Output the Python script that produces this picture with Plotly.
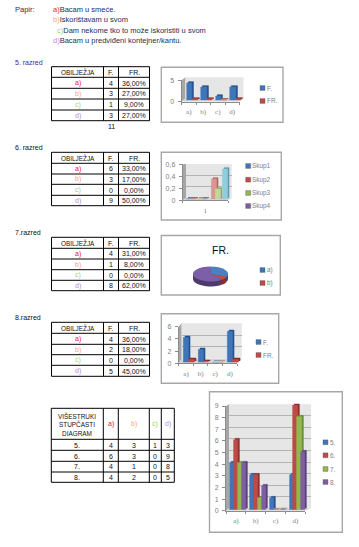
import plotly.graph_objects as go

W, H = 359, 547

# ---------- data ----------
oznake = ["a)", "b)", "c)", "d)"]
f_5 = [4, 3, 1, 3]
fr_5 = [36.0, 27.0, 9.0, 27.0]
f_6 = [6, 3, 0, 9]
fr_6 = [33.0, 17.0, 0.0, 50.0]
f_7 = [4, 1, 0, 8]
fr_7 = [31.0, 8.0, 0.0, 62.0]
f_8 = [4, 2, 0, 5]
fr_8 = [36.0, 18.0, 0.0, 45.0]
zbroj_5 = "11"
razredi = ["5.", "6.", "7.", "8."]
skup_zero = [0, 0, 0, 0]
skup_imena = ["Skup1", "Skup2", "Skup3", "Skup4"]
opis = ["Bacam u smeće.", "Iskorištavam u svom",
        "Dam nekome tko to može iskoristiti u svom",
        "Bacam u predviđeni kontejner/kantu."]

# ---------- styles ----------
FONT = "Liberation Sans"
OZN_COL = ["#f01818", "#f8a868", "#9ad860", "#b090d8"]
BLUE, RED, GREEN, PURPLE = "#4076b8", "#be4b48", "#94b850", "#7d5fa2"
DBLUE, DRED, DGREEN, DPURPLE = "#24508a", "#8a2e2c", "#68883a", "#553f78"
AX_TXT = "#808080"

def X(x): return x / W
def Y(y): return 1 - y / H

shapes, annos, traces, axes = [], [], [], {}
_n = [0]

def text(x, y, s, size=7, color="#111111", xanchor="left", **kw):
    annos.append(dict(x=X(x), y=Y(y), xref="paper", yref="paper", text=s, showarrow=False,
                      xanchor=xanchor, yanchor="middle", align=kw.pop("align", "left"),
                      font=dict(family=FONT, size=size, color=color),
                      borderpad=0, borderwidth=0, **kw))

def rect(x0, y0, x1, y1, fill=None, line=None, lw=1):
    shapes.append(dict(type="rect", xref="paper", yref="paper", x0=X(x0), x1=X(x1), y0=Y(y0), y1=Y(y1),
                       fillcolor=fill or "rgba(0,0,0,0)", line=dict(color=line or "rgba(0,0,0,0)", width=lw if line else 0),
                       layer="below"))

def line(x0, y0, x1, y1, color="#000000", lw=1):
    shapes.append(dict(type="line", xref="paper", yref="paper", x0=X(x0), x1=X(x1), y0=Y(y0), y1=Y(y1),
                       line=dict(color=color, width=lw), layer="above"))

def poly(pts, fill):
    d = "M " + " L ".join(f"{X(a):.5f},{Y(b):.5f}" for a, b in pts) + " Z"
    shapes.append(dict(type="path", xref="paper", yref="paper", path=d, fillcolor=fill, line=dict(width=0), layer="below"))

def grid_table(xs, ys, rows, colors=None):
    for x in xs: line(x, ys[0], x, ys[-1])
    for y in ys: line(xs[0], y, xs[-1], y)
    for r, row in enumerate(rows):
        for c, v in enumerate(row):
            col = colors[r][c] if colors else "#111111"
            size = 6.4 if r == 0 and c == 0 else 7
            text((xs[c] + xs[c + 1]) / 2, (ys[r] + ys[r + 1]) / 2 + 0.3, v, size=size, color=col,
                 xanchor="center", align="center")

def pct(v): return f"{v:.2f}%".replace(".", ",")

def freq_table(y_lines, f, fr):
    xs = [51.5, 103.5, 118.5, 149.5]
    rows = [["OBILJEŽJA", "F.", "FR."]] + [[o, str(a), pct(b)] for o, a, b in zip(oznake, f, fr)]
    cols = [["#111111"] * 3] + [[OZN_COL[i], "#111111", "#111111"] for i in range(4)]
    grid_table(xs, y_lines, rows, cols)

def new_axes(l, r, b, t, xrange, yrange, xopt=None, yopt=None):
    _n[0] += 1
    i = _n[0]
    s = "" if i == 1 else str(i)
    base = dict(showgrid=False, zeroline=False, showticklabels=False, ticks="", showline=False, fixedrange=True)
    xa = dict(base, domain=[X(l), X(r)], range=xrange, anchor="y" + s)
    ya = dict(base, domain=[Y(b), Y(t)], range=yrange, anchor="x" + s)
    xa.update(xopt or {}); ya.update(yopt or {})
    axes["xaxis" + s] = xa; axes["yaxis" + s] = ya
    return "x" + s, "y" + s

def bar_chart(fl, fr, y0, yt, wall, ymax, yticks, ylabels, cats, series, offsets, width,
              shift=(3, -1), depth=1.6):
    wl, wr, wt, wb = wall
    poly([(fl, y0), (wl, wb), (wl, wt), (fl, yt)], "#a6a6a6")
    poly([(fl, y0), (wl, wb), (wr, wb), (fr, y0)], "#d4d4d4")
    rect(wl, wt, wr, wb, fill="#e6e6e6")
    n = len(cats)
    xr = [-0.5, n - 0.5]
    # back wall with gridlines
    xa, ya = new_axes(wl, wr, wb, wt, xr, [0, ymax],
             yopt=dict(tickmode="array", tickvals=yticks, showgrid=True, gridcolor="#b4b4b4", gridwidth=1))
    traces.append(go.Scatter(x=list(range(n)), y=[0] * n, mode="none", xaxis=xa, yaxis=ya,
                             showlegend=False, hoverinfo="skip"))
    # side faces and fronts of the bars
    for sx, sy, key in ((shift[0] + depth, shift[1] - depth * 0.8, "dark"), (shift[0], shift[1], "face")):
        xa, ya = new_axes(fl + sx, fr + sx, y0 + sy, yt + sy, xr, [0, ymax],
                          xopt=dict(type="category", categoryorder="array", categoryarray=cats))
        for s, off in zip(series, offsets):
            traces.append(go.Bar(x=cats, y=s["y"], name=s["name"], xaxis=xa, yaxis=ya,
                                 marker=dict(color=s[key], line=dict(color=s[key], width=0.6)),
                                 width=[width] * n, offset=[off] * n, showlegend=False, hoverinfo="skip"))
    # front axes
    xa, ya = new_axes(fl, fr, y0, yt, xr, [0, ymax],
             xopt=dict(showline=True, linecolor="#8c8c8c", linewidth=1, tickmode="array",
                       tickvals=list(range(n)), ticktext=cats, showticklabels=True,
                       tickfont=dict(family="Liberation Serif", size=7, color=AX_TXT), ticks="", ticklabelstandoff=3,
                       minor=dict(tickmode="array", tickvals=[i - 0.5 for i in range(n + 1)], ticks="outside",
                                  ticklen=2, tickcolor="#8c8c8c", tickwidth=1)),
             yopt=dict(showline=True, linecolor="#8c8c8c", linewidth=1, tickmode="array", tickvals=yticks,
                       ticktext=ylabels, showticklabels=True, ticks="outside", ticklen=3, tickcolor="#8c8c8c",
                       tickfont=dict(family=FONT, size=7, color=AX_TXT), ticklabelstandoff=2))
    traces.append(go.Scatter(x=list(range(n)), y=[0] * n, mode="none", xaxis=xa, yaxis=ya,
                             showlegend=False, hoverinfo="skip"))

def legend(x, ys, names, colors):
    for y, nm, c in zip(ys, names, colors):
        rect(x, y - 2.4, x + 5, y + 2.4, fill=c, line="#5a5a5a", lw=0.4)
        text(x + 6.5, y, nm, size=6.4, color=AX_TXT)

# ---------- headings ----------
text(15, 10, "Papir:", size=7.5, color="#20305a")
for i, (y, xx) in enumerate(zip([10, 19.7, 30.6, 40.6], [53, 53, 57, 53])):
    text(xx, y, f'<span style="color:{OZN_COL[i]}">{oznake[i]}</span>{opis[i]}', size=7.5, color="#20305a")
text(15, 62.3, "5. razred", size=7, color="#3a2a9a")
text(15, 147.3, "6. razred", size=7)
text(15, 232.3, "7.razred", size=7)
text(15, 317.3, "8.razred", size=7)
text(111, 126.2, zbroj_5, xanchor="center")

# ---------- frames ----------
FR_C = "#a8a8a8"
for l, t, r, b in [(161.3, 67.3, 283, 122.3), (161.3, 152.3, 281.3, 220), (161.3, 235.5, 280.3, 295),
                   (161.3, 313.7, 278.7, 383.3), (209.5, 391.7, 342.3, 532.3)]:
    rect(l, t, r, b, fill="#ffffff", line=FR_C, lw=1.4)

# ---------- tables ----------
freq_table([66.7, 77.3, 88.3, 99, 110, 120.7], f_5, fr_5)
freq_table([152.3, 163.3, 174, 184.3, 195.3, 205.7], f_6, fr_6)
freq_table([237.3, 248.3, 259, 269.7, 280.3, 290.7], f_7, fr_7)
freq_table([322.3, 333.3, 344.3, 354.7, 365.3, 376.3], f_8, fr_8)
svi = [f_5, f_6, f_7, f_8]
rows5 = [["VIŠESTRUKI<br>STUPČASTI<br>DIAGRAM"] + oznake] + [[razredi[i]] + [str(v) for v in svi[i]] for i in range(4)]
cols5 = [["#111111"] + OZN_COL] + [["#111111"] * 5 for _ in range(4)]
grid_table([51.3, 103.3, 118.3, 149.3, 161.3, 174.3], [408.3, 439.3, 450.3, 461.3, 472, 482.3], rows5, cols5)

# ---------- charts ----------
fs = lambda name, y, c, d: dict(name=name, y=y, face=c, dark=d)

bar_chart(181.5, 239.5, 101.5, 80.3, (185.5, 243.5, 77.3, 98.5), 5, [0, 5], ["0", "5"], oznake,
          [fs("F.", f_5, BLUE, DBLUE), fs("FR.", [v / 100 for v in fr_5], RED, DRED)],
          [-0.39, 0.0], 0.39, shift=(3.6, -1))
legend(260, [88, 101], ["F.", "FR."], [BLUE, RED])

pale = [("#d99694", "#b06a68"), ("#c3d69b", "#8fa868"), ("#b3a2c7", "#8672a0"), ("#93cddd", "#5f9cb0")]
ser6 = [fs(skup_imena[i], [skup_zero[i]], c, d) for i, (c, d) in
        enumerate([(BLUE, DBLUE), (RED, DRED), (GREEN, DGREEN), (PURPLE, DPURPLE)])]
ser6 += [fs(oznake[i], [fr_6[i] / 100], pale[i][0], pale[i][1]) for i in range(4)]
bar_chart(182.7, 228, 200.3, 164.3, (186, 231.7, 164, 198), 0.6, [0, 0.2, 0.4, 0.6], ["0", "0,2", "0,4", "0,6"], ["1"],
          ser6, [-0.478, -0.361, -0.244, -0.127, 0.08, 0.17, 0.24, 0.32], 0.112, shift=(3, -1))
legend(245.7, [166, 179.7, 193, 206], skup_imena, [BLUE, RED, GREEN, PURPLE])

bar_chart(178.7, 237.1, 363.3, 326.7, (181.7, 241.7, 323.3, 358.7), 6, [0, 2, 4, 6], ["0", "2", "4", "6"], oznake,
          [fs("F.", f_8, BLUE, DBLUE), fs("FR.", [v / 100 for v in fr_8], RED, DRED)],
          [-0.37, -0.0], 0.37, shift=(3, -1))
legend(256, [342, 355], ["F.", "FR."], [BLUE, RED])

ser5 = [fs(razredi[i], [svi[i][k] for k in range(4)], c, d) for i, (c, d) in
        enumerate([(BLUE, DBLUE), (RED, DRED), (GREEN, DGREEN), (PURPLE, DPURPLE)])]
bar_chart(226, 305.2, 510.7, 406, (229, 311, 404.3, 508.3), 9, list(range(10)), [str(i) for i in range(10)], oznake,
          ser5, [-0.394, -0.197, 0.0, 0.197], 0.212, shift=(2, -1))
legend(323, [442.3, 455.3, 469, 482], razredi, [BLUE, RED, GREEN, PURPLE])

# ---------- pie (squashed below into a tilted disc) ----------
PIE_R, PIE_CX, PIE_CY, SQUASH = 17.5, 210.5, 274.0, 0.43
dark_pie = ["#24508a", "#8a2e2c", "#68883a", "#4e3a6e"]
top_pie = ["#4c80c0", "#c0504d", "#94b850", "#7d5fa8"]
for dy, cols in ((5.0, dark_pie), (3.5, dark_pie), (2.0, dark_pie), (0.7, dark_pie), (0, top_pie)):
    cy = PIE_CY + dy / SQUASH
    traces.append(go.Pie(values=fr_7, labels=oznake, sort=False, direction="clockwise", rotation=0,
                         textinfo="none", hoverinfo="skip", showlegend=False,
                         marker=dict(colors=cols, line=dict(width=0)),
                         domain=dict(x=[X(PIE_CX - PIE_R), X(PIE_CX + PIE_R)],
                                     y=[Y(cy + PIE_R), Y(cy - PIE_R)])))
text(220, 249.5, "FR.", size=10.5, color="#111111", xanchor="center")
legend(260, [270, 283], oznake[:2], [BLUE, RED])

layout = dict(width=W, height=H, autosize=False, margin=dict(l=0, r=0, t=0, b=0, pad=0, autoexpand=False),
              paper_bgcolor="#ffffff", plot_bgcolor="rgba(0,0,0,0)", barmode="overlay", bargap=0,
              shapes=shapes, annotations=annos, showlegend=False)
layout.update(axes)
fig = go.Figure(data=traces, layout=layout)

post = f"""
document.body.style.margin='0';
document.body.style.overflow='hidden';
document.querySelectorAll('.pielayer .trace').forEach(function(g){{
  g.setAttribute('transform','translate(0,{PIE_CY}) scale(1,{SQUASH}) translate(0,-{PIE_CY})');
}});
"""
fig.write_html("out.html", post_script=post, config={"responsive": False, "displayModeBar": False})
